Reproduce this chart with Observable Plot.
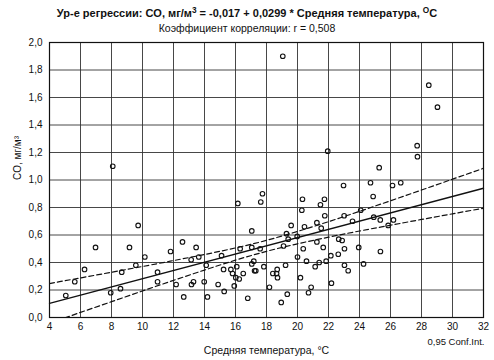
<!DOCTYPE html>
<html>
<head>
<meta charset="utf-8">
<script src="https://cdn.jsdelivr.net/npm/d3@7"></script>
<script src="https://cdn.jsdelivr.net/npm/@observablehq/plot@0.6"></script>
<style>
  body { margin: 0; background: #fff; font-family: "Liberation Sans", Arial, sans-serif; color: #111; }
  #wrap { width: 494px; height: 360px; overflow: hidden; background: #fff; }
  #title { height: 21px; line-height: 21px; padding-top: 3px; box-sizing: border-box; text-align: center; font-weight: bold; font-size: 11px; white-space: nowrap; }
  #subtitle { height: 15px; line-height: 15px; text-align: center; font-size: 10.5px; white-space: nowrap; }
  sup { font-size: 0.75em; line-height: 0; vertical-align: 0.45em; }
  svg { display: block; }
</style>
</head>
<body>
<div id="wrap">
  <div id="title"></div>
  <div id="subtitle"></div>
  <div id="chart"></div>
</div>
<script>
// ---- data ----
const tempX = [
  8.08, 9.72, 6.97, 9.16, 10.15, 11.81, 12.58, 13.46, 13.14, 13.63, 6.26, 8.66, 9.57, 10.97, 5.63, 10.97, 12.17, 13.16, 13.29, 5.05, 7.95, 8.58, 12.66,
  16.15, 17.74, 17.63, 15.10, 17.05, 16.30, 17.05, 17.59, 14.11, 15.23, 15.70, 16.08, 16.50, 15.81, 16.02, 16.24, 17.18, 17.05, 17.23, 17.31, 17.83,
  13.98, 14.88, 15.27, 15.92, 14.19, 16.79, 18.19, 18.41, 18.69, 18.65, 18.71, 19.23, 18.95, 19.34, 19.10, 19.29, 19.59, 19.40, 19.98,
  20.32, 20.28, 20.45, 21.25, 21.53, 21.48, 21.74, 21.76, 20.37, 20.00, 20.58, 21.25, 21.66, 21.40, 21.14, 21.85, 22.15, 22.63, 22.66,
  20.19, 20.88, 20.71, 22.19, 21.95,
  27.72, 27.74, 25.27, 22.97, 24.71, 26.13, 26.66, 24.88, 24.08, 23.01, 23.55, 24.92, 25.34, 26.19, 25.85, 22.88, 23.03, 23.95, 25.35, 23.03, 23.27, 24.26,
  19.05, 28.47, 29.03
];
const coY = [
  1.10, 0.67, 0.51, 0.51, 0.44, 0.48, 0.55, 0.51, 0.42, 0.44, 0.35, 0.33, 0.38, 0.33, 0.26, 0.26, 0.24, 0.24, 0.26, 0.16, 0.18, 0.21, 0.15,
  0.83, 0.90, 0.84, 0.45, 0.63, 0.50, 0.51, 0.50, 0.38, 0.35, 0.35, 0.37, 0.32, 0.32, 0.29, 0.28, 0.41, 0.39, 0.34, 0.34, 0.37,
  0.26, 0.24, 0.19, 0.23, 0.15, 0.14, 0.22, 0.32, 0.35, 0.32, 0.29, 0.38, 0.11, 0.17, 0.52, 0.61, 0.67, 0.57, 0.59,
  0.86, 0.78, 0.66, 0.69, 0.65, 0.82, 0.86, 0.74, 0.50, 0.44, 0.41, 0.55, 0.51, 0.40, 0.37, 0.41, 0.45, 0.46, 0.57,
  0.29, 0.22, 0.18, 0.25, 1.21,
  1.25, 1.17, 1.09, 0.96, 0.98, 0.96, 0.98, 0.88, 0.78, 0.74, 0.70, 0.73, 0.71, 0.71, 0.67, 0.56, 0.50, 0.51, 0.48, 0.38, 0.34, 0.39,
  1.90, 1.69, 1.53
];
const fitX = [4, 32];
const fitY = [0.103, 0.940];
const bandX = [4, 6, 8, 10, 12, 14, 16, 18, 20, 22, 24, 26, 28, 30, 32];
const bandUpper = [0.247, 0.288, 0.329, 0.371, 0.414, 0.458, 0.506, 0.561, 0.626, 0.697, 0.772, 0.849, 0.927, 1.006, 1.085];
const bandLower = [-0.042, 0.037, 0.115, 0.193, 0.270, 0.345, 0.417, 0.481, 0.536, 0.584, 0.629, 0.671, 0.713, 0.754, 0.795];
const xTicks = [4, 6, 8, 10, 12, 14, 16, 18, 20, 22, 24, 26, 28, 30, 32];
const yTicks = [0, 0.2, 0.4, 0.6, 0.8, 1.0, 1.2, 1.4, 1.6, 1.8, 2.0];
const titleHtml = "Ур-е регрессии: CO, мг/м<sup>3</sup> = -0,017 + 0,0299 * Средняя температура, <sup>O</sup>C";
const subtitleText = "Коэффициент корреляции: r = 0,508";
const xLabel = "Средняя температура, °C";
const yLabel = "CO, мг/м³";
const legendText = "0,95 Conf.Int.";

// ---- build ----
document.getElementById("title").innerHTML = titleHtml;
document.getElementById("subtitle").textContent = subtitleText;

const points = tempX.map((x, i) => ({x, y: coY[i]}));
const fit = fitX.map((x, i) => ({x, y: fitY[i]}));
const upper = bandX.map((x, i) => ({x, y: bandUpper[i]}));
const lower = bandX.map((x, i) => ({x, y: bandLower[i]}));
const fmt = d => d.toFixed(1).replace(".", ",");

const chart = Plot.plot({
  width: 494,
  height: 324,
  marginTop: 6,
  marginBottom: 43,
  marginLeft: 49,
  marginRight: 11,
  style: {fontFamily: "Liberation Sans, Arial, sans-serif", fontSize: "10px", color: "#111", background: "#fff"},
  x: {domain: [4, 32], ticks: xTicks, tickFormat: d => String(d), label: null, tickSize: 0, tickPadding: 5},
  y: {domain: [0, 2], ticks: yTicks, tickFormat: fmt, label: null, tickSize: 0, tickPadding: 7},
  marks: [
    Plot.gridX(xTicks, {stroke: "#333", strokeOpacity: 1, strokeWidth: 0.9}),
    Plot.gridY(yTicks, {stroke: "#333", strokeOpacity: 1, strokeWidth: 0.9}),
    Plot.line(upper, {x: "x", y: "y", stroke: "#111", strokeWidth: 1.2, strokeDasharray: "5,3", curve: "natural", clip: true}),
    Plot.line(lower, {x: "x", y: "y", stroke: "#111", strokeWidth: 1.2, strokeDasharray: "5,3", curve: "natural", clip: true}),
    Plot.line(fit, {x: "x", y: "y", stroke: "#111", strokeWidth: 1.3}),
    Plot.dot(points, {x: "x", y: "y", r: 2.3, stroke: "#111", strokeWidth: 1.1, fill: "none"}),
    Plot.frame({stroke: "#111", strokeWidth: 1.2}),
    Plot.text([xLabel], {text: d => d, frameAnchor: "bottom", lineAnchor: "middle", dy: 33, fontSize: 10.5, fill: "#111"}),
    Plot.text([yLabel], {text: d => d, frameAnchor: "left", lineAnchor: "middle", rotate: -90, dx: -32, fontSize: 10, fill: "#111"}),
    Plot.text([legendText], {text: d => d, frameAnchor: "bottom-right", textAnchor: "end", lineAnchor: "middle", dx: 1, dy: 24, fontSize: 9.5, fill: "#111"})
  ]
});
document.getElementById("chart").appendChild(chart);
</script>
</body>
</html>
